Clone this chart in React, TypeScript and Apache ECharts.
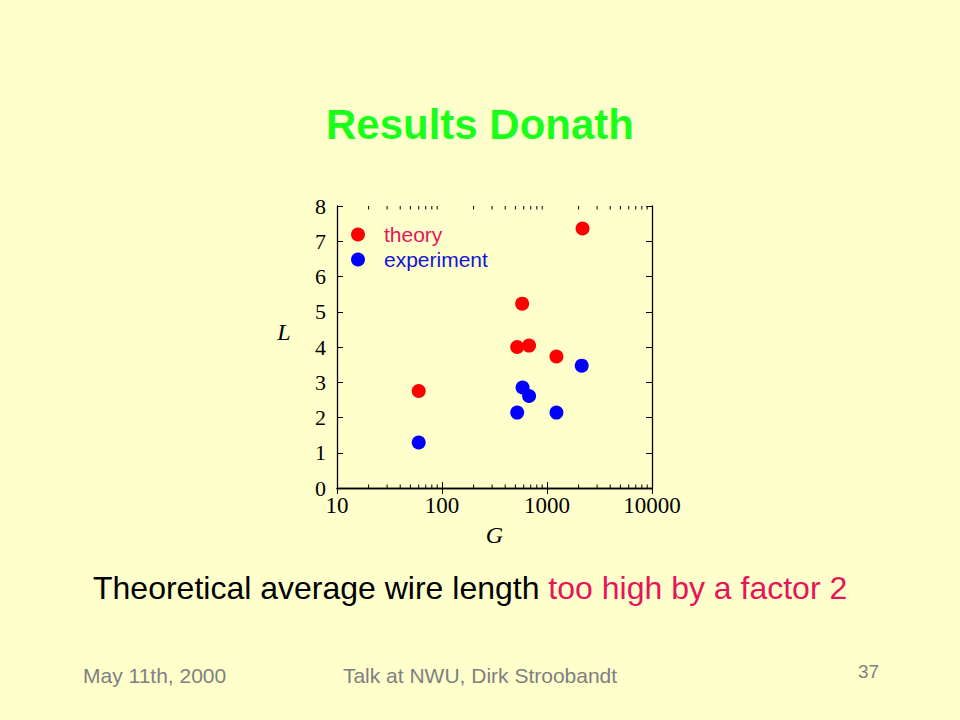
import React, { useEffect, useRef } from "react";
import * as echarts from "echarts";

const theoryG = [60, 520, 675, 580, 1230, 2180];
const theoryL = [2.75, 4.0, 4.04, 5.23, 3.73, 7.36];
const experimentG = [60, 520, 585, 675, 1230, 2140];
const experimentL = [1.29, 2.14, 2.85, 2.61, 2.14, 3.47];
const minorTickValues = [
  20, 30, 40, 50, 60, 70, 80, 90,
  200, 300, 400, 500, 600, 700, 800, 900,
  2000, 3000, 4000, 5000, 6000, 7000, 8000, 9000,
];
const seriesNames = ["theory", "experiment"];

const BG = "#ffffcc";
const SERIF = "'Liberation Serif', 'DejaVu Serif', serif";
const SANS = "'Liberation Sans', Arial, sans-serif";

export default function App() {
  const ref = useRef<HTMLDivElement>(null);
  useEffect(() => {
    document.body.style.margin = "0";
    if (!ref.current) return;
    const chart = echarts.init(ref.current, undefined, { renderer: "svg" });
    const axisLine = { show: true, lineStyle: { color: "#000", width: 1.3 } };
    const tick = { inside: true, length: 6, lineStyle: { color: "#000" } };
    chart.setOption({
      animation: false,
      backgroundColor: BG,
      title: {
        text: "Results Donath",
        left: "center",
        top: 98,
        textStyle: { color: "#1aff1a", fontSize: 42, fontWeight: "bold", fontFamily: SANS },
      },
      legend: {
        orient: "vertical",
        left: 351,
        top: 224,
        padding: 0,
        itemWidth: 14,
        itemHeight: 14,
        itemGap: 4,
        icon: "circle",
        data: [
          { name: seriesNames[0], textStyle: { color: "#e6145a" } },
          { name: seriesNames[1], textStyle: { color: "#1414d8" } },
        ],
        textStyle: { fontSize: 21, fontFamily: SANS, padding: [0, 0, 0, 14] },
      },
      grid: { left: 337, top: 206, width: 315, height: 282 },
      xAxis: [
        {
          type: "log",
          logBase: 10,
          min: 10,
          max: 10000,
          name: "G",
          nameLocation: "middle",
          nameGap: 35,
          nameTextStyle: { fontFamily: SERIF, fontStyle: "italic", fontSize: 24, color: "#000" },
          axisLine,
          axisTick: tick,
          axisLabel: {
            fontFamily: SERIF,
            fontSize: 23,
            color: "#000",
            margin: 6,
            formatter: (v: number) => String(v),
          },
          splitLine: { show: false },
        },
        {
          type: "log",
          logBase: 10,
          min: 10,
          max: 10000,
          position: "top",
          axisLine,
          axisTick: tick,
          axisLabel: { show: false },
          splitLine: { show: false },
        },
      ],
      yAxis: [
        {
          type: "value",
          min: 0,
          max: 8,
          interval: 1,
          axisLine,
          axisTick: tick,
          axisLabel: { fontFamily: SERIF, fontSize: 22, color: "#000", margin: 11, padding: [4, 0, 0, 0] },
          splitLine: { show: false },
        },
        {
          type: "value",
          min: 0,
          max: 8,
          interval: 1,
          position: "right",
          axisLine,
          axisTick: tick,
          axisLabel: { show: false },
          splitLine: { show: false },
        },
      ],
      series: [
        {
          name: seriesNames[0],
          type: "scatter",
          symbolSize: 14,
          itemStyle: { color: "#ff0000", opacity: 1 },
          data: theoryG.map((g, i) => [g, theoryL[i]]),
        },
        {
          name: seriesNames[1],
          type: "scatter",
          symbolSize: 14,
          itemStyle: { color: "#0000ff", opacity: 1 },
          data: experimentG.map((g, i) => [g, experimentL[i]]),
        },
        {
          name: "minorTicks",
          type: "custom",
          silent: true,
          data: minorTickValues.map((v) => [v, 0]),
          renderItem: (params: any, api: any) => {
            const v = api.value(0);
            const b = api.coord([v, 0]);
            const t = api.coord([v, 8]);
            const style = { stroke: "#000", lineWidth: 1 };
            return {
              type: "group",
              children: [
                { type: "line", shape: { x1: b[0], y1: b[1], x2: b[0], y2: b[1] - 3.5 }, style },
                { type: "line", shape: { x1: t[0], y1: t[1], x2: t[0], y2: t[1] + 3.5 }, style },
              ],
            };
          },
        },
      ],
      graphic: [
        {
          type: "text",
          x: 284,
          y: 332,
          style: {
            text: "L",
            font: `italic 24px ${SERIF}`,
            fill: "#000",
            align: "center",
            verticalAlign: "middle",
          },
        },
        {
          type: "text",
          x: 93,
          y: 588,
          style: {
            text: "{a|Theoretical average wire length }{b|too high by a factor 2}",
            verticalAlign: "middle",
            rich: {
              a: { fontSize: 32, fontFamily: SANS, fill: "#000" },
              b: { fontSize: 32, fontFamily: SANS, fill: "#e6145a" },
            },
          },
        },
        {
          type: "text",
          x: 83,
          y: 675,
          style: { text: "May 11th, 2000", fontSize: 21, fontFamily: SANS, fill: "#808080", verticalAlign: "middle" },
        },
        {
          type: "text",
          x: 480,
          y: 675,
          style: {
            text: "Talk at NWU, Dirk Stroobandt",
            fontSize: 21,
            fontFamily: SANS,
            fill: "#808080",
            align: "center",
            verticalAlign: "middle",
          },
        },
        {
          type: "text",
          x: 858,
          y: 671,
          style: { text: "37", fontSize: 19, fontFamily: SANS, fill: "#808080", verticalAlign: "middle" },
        },
      ],
    });
    return () => chart.dispose();
  }, []);
  return <div ref={ref} style={{ width: 960, height: 720, background: BG }} />;
}
